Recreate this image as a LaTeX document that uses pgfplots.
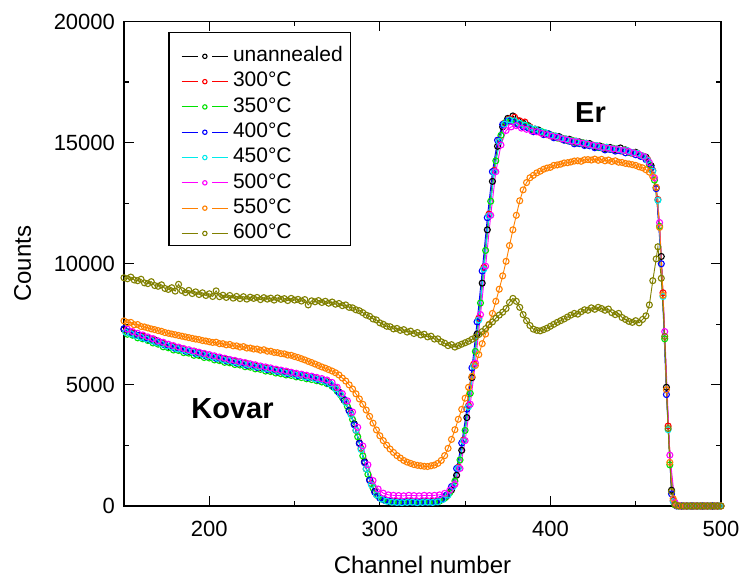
\documentclass[border=0pt]{standalone}
\usepackage{fontspec}
\setmainfont{Liberation Sans}
\usepackage{pgfplots}
\pgfplotsset{compat=1.18}

\definecolor{cUn}{RGB}{0,0,0}
\definecolor{cA}{RGB}{255,0,0}
\definecolor{cB}{RGB}{0,225,0}
\definecolor{cC}{RGB}{0,0,255}
\definecolor{cD}{RGB}{0,235,235}
\definecolor{cE}{RGB}{255,0,255}
\definecolor{cF}{RGB}{255,128,0}
\definecolor{cG}{RGB}{128,128,0}

\begin{document}
\begin{tikzpicture}
\begin{axis}[
  name=ax,
  width=298.5pt, height=242.25pt, scale only axis,
  xmin=150, xmax=500, ymin=0, ymax=20000,
  clip=false,
  xtick={200,300,400,500}, minor xtick={250,350,450},
  ytick={0,5000,10000,15000,20000}, minor ytick={2500,7500,12500,17500},
  major tick length=5pt, minor tick length=2.5pt,
  tick style={black, line width=0.6pt},
  axis line style={line width=0.8pt},
  scaled ticks=false,
  /pgf/number format/set thousands separator={},
  /pgf/number format/assume math mode=true,
  tick label style={font=\fontsize{11}{13}\selectfont},
  xticklabel style={yshift=-4pt},
  yticklabel style={xshift=-1pt},
  label style={font=\fontsize{12}{14}\selectfont},
  xlabel={Channel number}, ylabel={Counts},
  xlabel style={at={(axis description cs:0.5,-0.1218)}, anchor=center},
  ylabel style={at={(axis description cs:-0.170,0.5)}, anchor=center},
  legend style={at={(axis description cs:0.095,0.955)}, anchor=north west,
    draw=none, fill=none, font=\fontsize{10.5}{13}\selectfont,
    inner xsep=0pt, inner ysep=0pt, row sep=0pt,
    nodes={text height=8pt, text depth=2.65pt, inner sep=1pt}},
  legend cell align={left},
  legend image code/.code={
    \draw[mark=none] (0pt,0pt) -- (8pt,0pt);
    \draw[mark=none] (15.3pt,0pt) -- (23.3pt,0pt);
    \draw[mark size=1.1pt] plot coordinates {(11.65pt,0pt)};
    \path (24.5pt,0pt);
  },
  every axis plot/.append style={line width=0.45pt, mark size=1.5pt, mark options={solid, line width=0.55pt}},
]
% unannealed
\addplot[cUn, mark=o] coordinates {
(150,7290)(153,7160)(156,7130)(159,7010)(162,6990)(165,6850)(168,6860)(171,6720)(174,6690)(177,6570)
(180,6560)(183,6460)(186,6440)(189,6350)(192,6360)(195,6240)(198,6250)(201,6160)(204,6130)(207,6040)
(210,6060)(213,5950)(216,5960)(219,5870)(222,5880)(225,5790)(228,5780)(231,5690)(234,5700)(237,5590)
(240,5610)(243,5520)(246,5530)(249,5460)(252,5400)(255,5390)(258,5310)(261,5300)(264,5230)(267,5200)
(270,5110)(273,4900)(276,4710)(279,4370)(282,3950)(285,3390)(288,2600)(291,1830)(294,1080)(297,600)
(300,340)(303,250)(306,190)(309,190)(312,170)(315,190)(318,180)(321,170)(324,190)(327,180)
(330,200)(333,200)(336,250)(339,390)(342,660)(345,1270)(348,2300)(351,3650)(354,5300)(357,7100)
(360,9200)(363,11400)(366,13400)(369,14850)(372,15650)(375,16000)(378,16100)(381,15900)(384,15800)(387,15700)
(390,15500)(393,15520)(396,15380)(399,15360)(402,15230)(405,15250)(408,15120)(411,15140)(414,15020)(417,15030)
(420,14930)(423,14960)(426,14840)(429,14860)(432,14760)(435,14800)(438,14700)(441,14780)(444,14700)(447,14580)
(450,14600)(453,14460)(456,14400)(459,14050)(462,13150)(465,10300)(468,4900)(471,650)(474,30)(477,0)
(480,0)(483,0)(486,0)(489,0)(492,0)(495,0)(498,0)};
\addlegendentry{unannealed}
% 300 C
\addplot[cA, mark=o] coordinates {
(151,7200)(154,7180)(157,7050)(160,7030)(163,6910)(166,6880)(169,6770)(172,6740)(175,6610)(178,6600)
(181,6490)(184,6480)(187,6390)(190,6380)(193,6290)(196,6270)(199,6180)(202,6170)(205,6080)(208,6070)
(211,5990)(214,5980)(217,5900)(220,5890)(223,5810)(226,5800)(229,5720)(232,5710)(235,5630)(238,5620)
(241,5540)(244,5540)(247,5460)(250,5450)(253,5380)(256,5370)(259,5290)(262,5280)(265,5200)(268,5170)
(271,5030)(274,4870)(277,4580)(280,4300)(283,3820)(286,3120)(289,2380)(292,1530)(295,920)(298,470)
(301,290)(304,230)(307,180)(310,190)(313,170)(316,180)(319,190)(322,170)(325,180)(328,190)
(331,180)(334,200)(337,290)(340,470)(343,830)(346,1600)(349,2720)(352,4150)(355,5850)(358,7750)
(361,9850)(364,12050)(367,13850)(370,15100)(373,15800)(376,15980)(379,16050)(382,15900)(385,15850)(388,15650)
(391,15560)(394,15420)(397,15400)(400,15280)(403,15270)(406,15160)(409,15150)(412,15050)(415,15060)(418,14960)
(421,14970)(424,14880)(427,14870)(430,14780)(433,14800)(436,14720)(439,14740)(442,14650)(445,14670)(448,14560)
(451,14560)(454,14450)(457,14300)(460,13850)(463,12650)(466,8800)(469,3300)(472,220)(475,10)(478,0)
(481,0)(484,0)(487,0)(490,0)(493,0)(496,0)(499,0)};
\addlegendentry{300°C}
% 350 C
\addplot[cB, mark=o] coordinates {
(152,7090)(155,7050)(158,6940)(161,6900)(164,6830)(167,6730)(170,6680)(173,6570)(176,6530)(179,6440)
(182,6420)(185,6330)(188,6310)(191,6220)(194,6210)(197,6130)(200,6110)(203,6030)(206,6000)(209,5930)
(212,5910)(215,5840)(218,5820)(221,5750)(224,5730)(227,5660)(230,5640)(233,5570)(236,5550)(239,5490)
(242,5460)(245,5410)(248,5390)(251,5330)(254,5300)(257,5250)(260,5220)(263,5170)(266,5120)(269,5050)
(272,4940)(275,4740)(278,4480)(281,4110)(284,3570)(287,2860)(290,2070)(293,1310)(296,740)(299,410)
(302,260)(305,200)(308,170)(311,160)(314,170)(317,180)(320,160)(323,170)(326,180)(329,160)
(332,170)(335,200)(338,320)(341,550)(344,1030)(347,1900)(350,3120)(353,4650)(356,6380)(359,8380)
(362,10550)(365,12580)(368,14250)(371,15300)(374,15850)(377,15900)(380,15820)(383,15750)(386,15700)(389,15560)
(392,15480)(395,15450)(398,15330)(401,15300)(404,15190)(407,15180)(410,15080)(413,15090)(416,14980)(419,15000)
(422,14900)(425,14890)(428,14800)(431,14820)(434,14740)(437,14760)(440,14680)(443,14700)(446,14600)(449,14590)
(452,14480)(455,14420)(458,14100)(461,13450)(464,11550)(467,6900)(470,1700)(473,40)(476,0)(479,0)
(482,0)(485,0)(488,0)(491,0)(494,0)(497,0)(500,0)};
\addlegendentry{350°C}
% 400 C
\addplot[cC, mark=o] coordinates {
(150,7320)(153,7190)(156,7080)(159,7050)(162,6930)(165,6910)(168,6790)(171,6770)(174,6640)(177,6610)
(180,6500)(183,6500)(186,6390)(189,6400)(192,6290)(195,6300)(198,6190)(201,6200)(204,6090)(207,6100)
(210,5990)(213,6000)(216,5900)(219,5910)(222,5810)(225,5830)(228,5720)(231,5740)(234,5630)(237,5650)
(240,5550)(243,5570)(246,5460)(249,5480)(252,5380)(255,5400)(258,5300)(261,5310)(264,5210)(267,5190)
(270,5060)(273,4930)(276,4680)(279,4400)(282,3930)(285,3350)(288,2580)(291,1790)(294,1060)(297,570)
(300,330)(303,230)(306,180)(309,160)(312,150)(315,170)(318,160)(321,150)(324,170)(327,160)
(330,150)(333,170)(336,280)(339,450)(342,800)(345,1550)(348,2600)(351,4000)(354,5700)(357,7600)
(360,9700)(363,11900)(366,13800)(369,15100)(372,15750)(375,15900)(378,15850)(381,15750)(384,15650)(387,15600)
(390,15450)(393,15470)(396,15330)(399,15350)(402,15200)(405,15210)(408,15100)(411,15060)(414,14950)(417,14960)
(420,14880)(423,14870)(426,14790)(429,14800)(432,14700)(435,14720)(438,14650)(441,14660)(444,14580)(447,14600)
(450,14500)(453,14430)(456,14300)(459,13950)(462,13100)(465,10000)(468,4600)(471,500)(474,0)(477,0)
(480,0)(483,0)(486,0)(489,0)(492,0)(495,0)(498,0)};
\addlegendentry{400°C}
% 450 C
\addplot[cD, mark=o] coordinates {
(151,7170)(154,7110)(157,7030)(160,6960)(163,6890)(166,6830)(169,6750)(172,6690)(175,6610)(178,6560)
(181,6490)(184,6450)(187,6390)(190,6360)(193,6290)(196,6250)(199,6190)(202,6150)(205,6090)(208,6040)
(211,6000)(214,5940)(217,5910)(220,5850)(223,5830)(226,5760)(229,5740)(232,5670)(235,5650)(238,5590)
(241,5560)(244,5500)(247,5480)(250,5420)(253,5400)(256,5330)(259,5310)(262,5250)(265,5220)(268,5140)
(271,5040)(274,4840)(277,4590)(280,4270)(283,3780)(286,3130)(289,2330)(292,1530)(295,880)(298,460)
(301,280)(304,200)(307,160)(310,150)(313,140)(316,150)(319,160)(322,140)(325,150)(328,160)
(331,150)(334,170)(337,270)(340,450)(343,800)(346,1560)(349,2680)(352,4100)(355,5780)(358,7680)
(361,9780)(364,11980)(367,13780)(370,15050)(373,15760)(376,15940)(379,15900)(382,15800)(385,15720)(388,15620)
(391,15560)(394,15460)(397,15410)(400,15300)(403,15270)(406,15180)(409,15150)(412,15070)(415,15060)(418,14980)
(421,14970)(424,14890)(427,14880)(430,14800)(433,14810)(436,14740)(439,14740)(442,14680)(445,14670)(448,14580)
(451,14560)(454,14450)(457,14270)(460,13820)(463,12620)(466,8650)(469,3150)(472,180)(475,0)(478,0)
(481,0)(484,0)(487,0)(490,0)(493,0)(496,0)(499,0)};
\addlegendentry{450°C}
% 500 C
\addplot[cE, mark=o] coordinates {
(152,7300)(155,7200)(158,7130)(161,7060)(164,6980)(167,6910)(170,6820)(173,6760)(176,6680)(179,6620)
(182,6560)(185,6500)(188,6450)(191,6400)(194,6350)(197,6300)(200,6250)(203,6200)(206,6150)(209,6100)
(212,6050)(215,6010)(218,5960)(221,5920)(224,5870)(227,5830)(230,5780)(233,5740)(236,5700)(239,5650)
(242,5610)(245,5570)(248,5520)(251,5480)(254,5440)(257,5400)(260,5360)(263,5310)(266,5260)(269,5200)
(272,5100)(275,4900)(278,4640)(281,4340)(284,3880)(287,3250)(290,2480)(293,1700)(296,1050)(299,700)
(302,530)(305,460)(308,440)(311,430)(314,420)(317,440)(320,430)(323,420)(326,440)(329,430)
(332,440)(335,460)(338,520)(341,650)(344,900)(347,1550)(350,2700)(353,4200)(356,5900)(359,7900)
(362,9900)(365,12000)(368,13800)(371,14900)(374,15500)(377,15650)(380,15700)(383,15600)(386,15550)(389,15480)
(392,15450)(395,15380)(398,15330)(401,15270)(404,15220)(407,15160)(410,15110)(413,15060)(416,15030)(419,14980)
(422,14930)(425,14890)(428,14850)(431,14800)(434,14770)(437,14740)(440,14710)(443,14680)(446,14630)(449,14580)
(452,14510)(455,14420)(458,14180)(461,13550)(464,11700)(467,7200)(470,2100)(473,150)(476,0)(479,0)
(482,0)(485,0)(488,0)(491,0)(494,0)(497,0)(500,0)};
\addlegendentry{500°C}
% 550 C
\addplot[cF, mark=o] coordinates {
(150,7640)(152,7570)(154,7580)(156,7480)(158,7490)(160,7410)(162,7390)(164,7350)(166,7310)(168,7280)
(170,7240)(172,7210)(174,7160)(176,7130)(178,7100)(180,7070)(182,7040)(184,7010)(186,6980)(188,6950)
(190,6920)(192,6890)(194,6870)(196,6830)(198,6810)(200,6780)(202,6750)(204,6760)(206,6700)(208,6700)
(210,6650)(212,6670)(214,6610)(216,6610)(218,6560)(220,6580)(222,6520)(224,6520)(226,6480)(228,6480)
(230,6430)(232,6450)(234,6390)(236,6390)(238,6340)(240,6330)(242,6290)(244,6280)(246,6230)(248,6220)
(250,6170)(252,6130)(254,6080)(256,6030)(258,5970)(260,5920)(262,5860)(264,5800)(266,5740)(268,5690)
(270,5630)(272,5570)(274,5500)(276,5410)(278,5280)(280,5160)(282,5000)(284,4830)(286,4630)(288,4420)
(290,4200)(292,3960)(294,3700)(296,3420)(298,3140)(300,2900)(302,2700)(304,2510)(306,2350)(308,2210)
(310,2080)(312,1980)(314,1880)(316,1810)(318,1760)(320,1710)(322,1680)(324,1660)(326,1640)(328,1630)
(330,1660)(332,1690)(334,1760)(336,1880)(338,2080)(340,2380)(342,2750)(344,3150)(346,3580)(348,3990)
(350,4450)(352,4900)(354,5350)(356,5800)(358,6250)(360,6700)(362,7100)(364,7500)(366,7950)(368,8450)
(370,8950)(372,9500)(374,10100)(376,10750)(378,11400)(380,12000)(382,12600)(384,13050)(386,13350)(388,13550)
(390,13650)(392,13750)(394,13820)(396,13900)(398,13950)(400,13980)(402,14060)(404,14080)(406,14110)(408,14160)
(410,14170)(412,14200)(414,14240)(416,14250)(418,14230)(420,14290)(422,14300)(424,14280)(426,14320)(428,14270)
(430,14310)(432,14250)(434,14280)(436,14220)(438,14250)(440,14190)(442,14180)(444,14140)(446,14120)(448,14090)
(450,14060)(452,14000)(454,13960)(456,13880)(458,13780)(460,13600)(462,13150)(464,11500)(466,8700)(468,4800)
(470,1800)(472,300)(474,20)(476,0)(478,0)(480,0)(482,0)(484,0)(486,0)(488,0)
(490,0)(492,0)(494,0)(496,0)(498,0)(500,0)};
\addlegendentry{550°C}
% 600 C
\addplot[cG, mark=o] coordinates {
(150,9420)(152,9380)(154,9450)(156,9330)(158,9300)(160,9360)(162,9210)(164,9180)(166,9260)(168,9100)
(170,9070)(172,9130)(174,8980)(176,8940)(178,9010)(180,8870)(182,9150)(184,8890)(186,8810)(188,8900)
(190,8770)(192,8840)(194,8730)(196,8800)(198,8690)(200,8760)(202,8650)(204,8880)(206,8640)(208,8700)
(210,8610)(212,8690)(214,8580)(216,8650)(218,8560)(220,8640)(222,8540)(224,8620)(226,8570)(228,8610)
(230,8520)(232,8600)(234,8540)(236,8580)(238,8500)(240,8590)(242,8530)(244,8560)(246,8480)(248,8570)
(250,8500)(252,8530)(254,8460)(256,8520)(258,8300)(260,8470)(262,8430)(264,8480)(266,8400)(268,8450)
(270,8370)(272,8420)(274,8330)(276,8360)(278,8270)(280,8300)(282,8200)(284,8180)(286,8100)(288,8060)
(290,7980)(292,7880)(294,7830)(296,7720)(298,7680)(300,7560)(302,7500)(304,7420)(306,7400)(308,7310)
(310,7330)(312,7250)(314,7280)(316,7180)(318,7220)(320,7120)(322,7160)(324,7060)(326,7090)(328,6980)
(330,7010)(332,6890)(334,6900)(336,6780)(338,6720)(340,6620)(342,6660)(344,6560)(346,6620)(348,6680)
(350,6740)(352,6800)(354,6880)(356,6960)(358,7080)(360,7200)(362,7320)(364,7480)(366,7600)(368,7750)
(370,7880)(372,8000)(374,8150)(376,8400)(378,8570)(380,8450)(382,8200)(384,7900)(386,7650)(388,7450)
(390,7300)(392,7250)(394,7230)(396,7280)(398,7340)(400,7420)(402,7500)(404,7580)(406,7650)(408,7720)
(410,7800)(412,7880)(414,7950)(416,7920)(418,8020)(420,8100)(422,8080)(424,8180)(426,8120)(428,8200)
(430,8150)(432,8080)(434,8130)(436,7980)(438,7900)(440,7950)(442,7780)(444,7700)(446,7620)(448,7580)
(450,7650)(452,7560)(454,7700)(456,7850)(458,8300)(460,9300)(462,10200)(463,10700)(465,9400)(467,7000)
(469,3200)(471,600)(473,60)(475,0)(478,0)(480,0)(482,0)(484,0)(486,0)(488,0)
(490,0)(492,0)(494,0)(496,0)(498,0)(500,0)};
\addlegendentry{600°C}
\draw[line width=0.6pt] (axis description cs:0.0754,0.977) rectangle (axis description cs:0.380,0.537);
\node[font=\bfseries\fontsize{14.5}{16}\selectfont] at (axis cs:213.6,4000) {Kovar};
\node[font=\bfseries\fontsize{14.5}{16}\selectfont] at (axis cs:423.5,16250) {Er};
\end{axis}
\pgfresetboundingbox
\path ([shift={(-62pt,-35.5pt)}]ax.south west) rectangle ([shift={(11pt,10.75pt)}]ax.north east);
\end{tikzpicture}
\end{document}
